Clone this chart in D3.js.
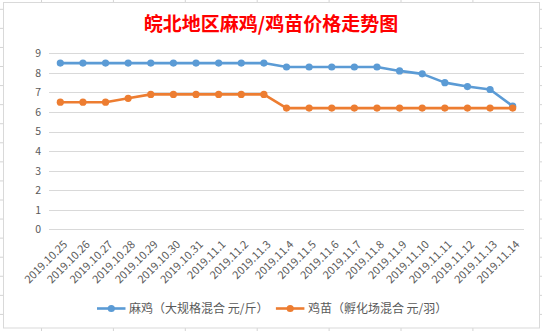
<!DOCTYPE html>
<html>
<head>
<meta charset="utf-8">
<script src="https://cdn.jsdelivr.net/npm/d3@7"></script>
<style>
  html, body { margin: 0; padding: 0; background: #fff; }
  svg { display: block; }
  text { font-family: "Noto Sans CJK SC", "Noto Sans", sans-serif; }
</style>
</head>
<body>
<svg id="chart" width="542" height="331"></svg>
<script>
// ---- data ----
const categories = ["2019.10.25","2019.10.26","2019.10.27","2019.10.28","2019.10.29","2019.10.30","2019.10.31",
  "2019.11.1","2019.11.2","2019.11.3","2019.11.4","2019.11.5","2019.11.6","2019.11.7","2019.11.8","2019.11.9",
  "2019.11.10","2019.11.11","2019.11.12","2019.11.13","2019.11.14"];
const chickenPrice = [8.5,8.5,8.5,8.5,8.5,8.5,8.5,8.5,8.5,8.5,8.3,8.3,8.3,8.3,8.3,8.1,7.95,7.5,7.3,7.15,6.3];
const chickPrice   = [6.5,6.5,6.5,6.7,6.9,6.9,6.9,6.9,6.9,6.9,6.2,6.2,6.2,6.2,6.2,6.2,6.2,6.2,6.2,6.2,6.2];
const seriesNames = ["麻鸡（大规格混合 元/斤）", "鸡苗（孵化场混合 元/羽）"];
const yTicks = [0,1,2,3,4,5,6,7,8,9];
const titleText = "皖北地区麻鸡/鸡苗价格走势图";

// ---- layout ----
const W = 542, H = 331;
const svg = d3.select("#chart");
const colors = ["#5B9BD5", "#ED7D31"];
const plot = { left: 49, right: 524, top: 53.3, bottom: 229.4 };

// spreadsheet background gridlines
const bg = svg.append("g");
const colXs = d3.range(7).map(i => 41.5 + i * 71.9);
const rowYs = d3.range(18).map(i => 9.3 + i * 19.07);
bg.selectAll("line.c").data(colXs).join("line")
  .attr("x1", d => d).attr("x2", d => d).attr("y1", 0).attr("y2", H)
  .attr("stroke", "#d4d4d4").attr("stroke-width", 1);
bg.selectAll("line.r").data(rowYs).join("line")
  .attr("x1", 0).attr("x2", W).attr("y1", d => d).attr("y2", d => d)
  .attr("stroke", "#d4d4d4").attr("stroke-width", 1);

// chart area
svg.append("rect").attr("x", 3.5).attr("y", 2.5).attr("width", 536).attr("height", 325.5)
  .attr("fill", "#fff").attr("stroke", "#d9d9d9").attr("stroke-width", 1);

// title
svg.append("text").attr("x", 271).attr("y", 30.5).attr("text-anchor", "middle")
  .attr("font-size", 19).attr("font-weight", "bold").attr("fill", "#FF0000")
  .text(titleText);

// scales
const x = d3.scaleBand().domain(categories).range([plot.left, plot.right]);
const y = d3.scaleLinear().domain([0, 9]).range([plot.bottom, plot.top]);

// gridlines
svg.append("g").selectAll("line").data(yTicks).join("line")
  .attr("x1", plot.left).attr("x2", plot.right)
  .attr("y1", d => Math.round(y(d)) + 0.5).attr("y2", d => Math.round(y(d)) + 0.5)
  .attr("stroke", "#d9d9d9").attr("stroke-width", 1);

// y axis
const yAxis = svg.append("g").attr("transform", `translate(${plot.left - 1},0)`)
  .call(d3.axisLeft(y).tickValues(yTicks).tickSize(0).tickPadding(7));
yAxis.select(".domain").remove();
yAxis.selectAll("text").attr("font-size", 10.5).attr("fill", "#595959")
  .style("font-family", "'Noto Sans CJK SC', sans-serif");

// x axis labels
const xAxis = svg.append("g").attr("transform", `translate(0,${plot.bottom})`)
  .call(d3.axisBottom(x).tickSize(0).tickPadding(0));
xAxis.select(".domain").remove();
xAxis.selectAll("text")
  .attr("font-size", 11).attr("fill", "#595959")
  .attr("text-anchor", "end")
  .attr("dy", "0.35em")
  .attr("transform", "translate(5,13) rotate(-45)")
  .attr("y", 0);

// series
const series = [chickenPrice, chickPrice];
const cx = (d, i) => x(categories[i]) + x.bandwidth() / 2;
const line = d3.line().x((d, i) => cx(d, i)).y(d => y(d));
series.forEach((vals, k) => {
  const g = svg.append("g");
  g.append("path").datum(vals).attr("d", line)
    .attr("fill", "none").attr("stroke", colors[k]).attr("stroke-width", 2.6)
    .attr("stroke-linejoin", "round");
  g.selectAll("circle").data(vals).join("circle")
    .attr("cx", (d, i) => cx(d, i)).attr("cy", d => y(d)).attr("r", 3.6)
    .attr("fill", colors[k]);
});

// legend
const legend = svg.append("g").attr("transform", "translate(97,308.5)");
let lx = 0;
seriesNames.forEach((name, k) => {
  const item = legend.append("g").attr("transform", `translate(${lx},0)`);
  item.append("line").attr("x1", 0).attr("x2", 28.5).attr("y1", 0).attr("y2", 0)
    .attr("stroke", colors[k]).attr("stroke-width", 2.6);
  item.append("circle").attr("cx", 14.3).attr("cy", 0).attr("r", 3.6).attr("fill", colors[k]);
  const t = item.append("text").attr("x", 32).attr("y", 0).attr("dy", "0.36em")
    .attr("font-size", 12).attr("fill", "#595959").text(name);
  lx += 32 + t.node().getComputedTextLength() + 7.5;
});
</script>
</body>
</html>
